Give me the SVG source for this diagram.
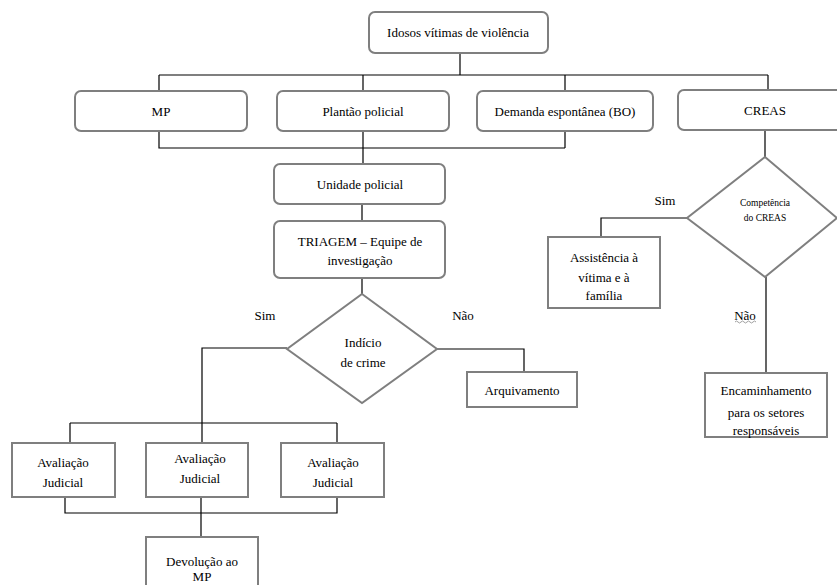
<svg xmlns="http://www.w3.org/2000/svg" width="837" height="585" viewBox="0 0 837 585" font-family="'Liberation Serif', 'DejaVu Serif', serif">
<style>
.bx{fill:#fff;stroke:#7f7f7f;stroke-width:2}
.dm{fill:#fff;stroke:#7f7f7f;stroke-width:2}
.ln{fill:none;stroke:#000;stroke-width:1.2}
text{font-family:'Liberation Serif','DejaVu Serif',serif;font-size:13px;fill:#000;text-anchor:middle;dominant-baseline:central}
.sm{font-size:9.5px}
</style>
<rect width="837" height="585" fill="#fff"/>
<g id="connectors">
<path class="ln" d="M460 53V75M159 75H768M159 75V91M363 75V91M565 75V91M768 75V90"/>
<path class="ln" d="M159 131V148H565M565 131V148M363 131V164M362 204V221M362 278V294"/>
<path class="ln" d="M287 348H202V443M70 423H337M70 423V443M337 423V443"/>
<path class="ln" d="M437 349H524V372"/>
<path class="ln" d="M65 497V513H337V497M201 497V537M219 537V548"/>
<path class="ln" d="M765 130V157M687 218H601V237M766 277V373"/>
<path d="M735 322q1.5 -2 3 0t3 0t3 0t3 0t3 0t3 0t3 0" fill="none" stroke="#888" stroke-width="0.8"/>
</g>
<g id="n-idosos"><rect class="bx" x="369" y="12" width="179" height="41" rx="6"/><text x="458" y="32">Idosos vítimas de violência</text></g>
<g id="n-mp"><rect class="bx" x="75" y="91" width="172" height="40" rx="6"/><text x="161" y="111">MP</text></g>
<g id="n-plantao"><rect class="bx" x="277" y="91" width="172" height="40" rx="6"/><text x="363" y="111">Plantão policial</text></g>
<g id="n-demanda"><rect class="bx" x="477" y="91" width="176" height="40" rx="6"/><text x="565" y="111">Demanda espontânea (BO)</text></g>
<g id="n-creas"><rect class="bx" x="678" y="90" width="172" height="40" rx="6"/><text x="765" y="110">CREAS</text></g>
<g id="n-unidade"><rect class="bx" x="274" y="164" width="171" height="40" rx="6"/><text x="360" y="184">Unidade policial</text></g>
<g id="n-triagem"><rect class="bx" x="274" y="221" width="171" height="57" rx="6"/><text x="360" y="241">TRIAGEM – Equipe de</text><text x="360" y="260">investigação</text></g>
<g id="n-indicio"><polygon class="dm" points="362,294 437,349 362,403 287,349"/><text x="363" y="342">Indício</text><text x="363" y="362">de crime</text></g>
<g id="n-arquivamento"><rect class="bx" x="467" y="372" width="110" height="35"/><text x="522" y="390">Arquivamento</text></g>
<g id="n-aval1"><rect class="bx" x="12" y="443" width="103" height="54"/><text x="63" y="462">Avaliação</text><text x="63" y="482">Judicial</text></g>
<g id="n-aval2"><rect class="bx" x="146" y="443" width="102" height="54"/><text x="200" y="458">Avaliação</text><text x="200" y="478">Judicial</text></g>
<g id="n-aval3"><rect class="bx" x="281" y="443" width="103" height="54"/><text x="333" y="462">Avaliação</text><text x="333" y="482">Judicial</text></g>
<g id="n-devolucao"><rect class="bx" x="146" y="537" width="112" height="60"/><text x="202" y="561">Devolução ao</text><text x="202" y="576">MP</text></g>
<g id="n-competencia"><polygon class="dm" points="765,157 837,218 765,277 687,218"/><text class="sm" x="765" y="203">Competência</text><text class="sm" x="765" y="218">do CREAS</text></g>
<g id="n-assistencia"><rect class="bx" x="548" y="237" width="112" height="71"/><text x="604" y="257">Assistência à</text><text x="604" y="277">vítima e à</text><text x="604" y="295">família</text></g>
<g id="n-encaminhamento"><rect class="bx" x="705" y="373" width="122" height="64"/><text x="766" y="390">Encaminhamento</text><text x="766" y="412">para os setores</text><text x="766" y="430">responsáveis</text></g>
<g id="labels">
<text x="265" y="315">Sim</text>
<text x="463" y="315">Não</text>
<text x="665" y="200">Sim</text>
<text x="745" y="315">Não</text>
</g>
</svg>
